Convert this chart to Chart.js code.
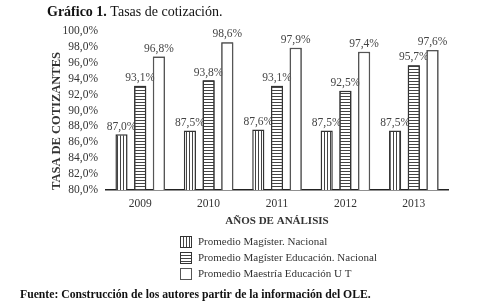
<!DOCTYPE html>
<html>
<head>
<meta charset="utf-8">
<script src="https://cdn.jsdelivr.net/npm/chart.js@4"></script>
<style>
  html, body { margin: 0; padding: 0; background: #fff; }
  #wrap { width: 502px; height: 304px; }
</style>
</head>
<body>
<div id="wrap"><canvas id="tasas" width="502" height="304"></canvas></div>
<script>
const years = ['2009', '2010', '2011', '2012', '2013'];
const magisterNacional = [87.0, 87.5, 87.6, 87.5, 87.5];
const magisterEducacion = [93.1, 93.8, 93.1, 92.5, 95.7];
const maestriaUT = [96.8, 98.6, 97.9, 97.4, 97.6];
const seriesNames = [
  'Promedio Magíster. Nacional',
  'Promedio Magíster Educación. Nacional',
  'Promedio Maestría Educación U T',
];
const yTicks = [80, 82, 84, 86, 88, 90, 92, 94, 96, 98, 100];

const serif = '"Liberation Serif", "DejaVu Serif", serif';

function stripes(vertical) {
  const c = document.createElement('canvas');
  c.width = 3;
  c.height = 3;
  const g = c.getContext('2d');
  g.fillStyle = '#fff';
  g.fillRect(0, 0, 3, 3);
  g.fillStyle = '#444';
  if (vertical) g.fillRect(0, 0, 1, 3);
  else g.fillRect(0, 0, 3, 1);
  return g.createPattern(c, 'repeat');
}

const ctx = document.getElementById('tasas').getContext('2d');
const fills = [stripes(true), stripes(false), '#fff'];
const borders = ['#333', '#333', '#555'];
const fmt = (v) => v.toFixed(1).replace('.', ',') + '%';

const extras = {
  id: 'extras',
  // etiquetas de valor: las barras de la serie siguiente las tapan, como en el original
  afterDatasetsDraw(chart) {
    const c = chart.ctx;
    const a = chart.chartArea;
    chart.data.datasets.forEach((ds, i) => {
      const meta = chart.getDatasetMeta(i);
      if (i > 0) {
        c.save();
        c.beginPath();
        c.rect(a.left, a.top - 20, a.right - a.left, a.bottom - a.top + 20);
        c.clip();
        meta.data.forEach((bar) => bar.draw(c));
        c.restore();
      }
      c.save();
      c.fillStyle = '#444';
      c.font = '11.5px ' + serif;
      c.textAlign = 'center';
      c.textBaseline = 'bottom';
      meta.data.forEach((bar, j) => {
        c.fillText(fmt(ds.data[j]), bar.x, bar.y - 2);
      });
      c.restore();
    });
  },
  afterDraw(chart) {
    const c = chart.ctx;
    c.save();
    c.textBaseline = 'alphabetic';
    c.fillStyle = '#111';
    c.font = 'bold 14px ' + serif;
    c.fillText('Gráfico 1.', 47, 16);
    const w = c.measureText('Gráfico 1. ').width;
    c.font = '14px ' + serif;
    c.fillText('Tasas de cotización.', 47 + w, 16);

    // titulo del eje y
    c.save();
    c.translate(57, 121);
    c.rotate(-Math.PI / 2);
    c.textAlign = 'center';
    c.textBaseline = 'middle';
    c.fillStyle = '#333';
    c.font = 'bold 12.5px ' + serif;
    c.fillText('TASA DE COTIZANTES', 0, 0);
    c.restore();

    c.font = '11px ' + serif;
    c.textBaseline = 'middle';
    seriesNames.forEach((name, i) => {
      const y = 242 + i * 16;
      c.fillStyle = fills[i];
      c.fillRect(180, y - 6, 12, 12);
      c.strokeStyle = borders[i];
      c.lineWidth = 1;
      c.strokeRect(180.5, y - 5.5, 11, 11);
      c.fillStyle = '#333';
      c.fillText(name, 198, y);
    });

    c.fillStyle = '#111';
    c.textBaseline = 'alphabetic';
    c.font = 'bold 11.7px ' + serif;
    c.fillText('Fuente: Construcción de los autores partir de la información del OLE.', 20, 298);
    c.restore();
  },
};

new Chart(ctx, {
  type: 'bar',
  data: {
    labels: years,
    datasets: [magisterNacional, magisterEducacion, maestriaUT].map((d, i) => ({
      label: seriesNames[i],
      data: d,
      backgroundColor: fills[i],
      borderColor: borders[i],
      borderWidth: 1.5,
      categoryPercentage: 0.82,
      barPercentage: 0.65,
    })),
  },
  options: {
    responsive: false,
    animation: false,
    layout: {
      padding: { top: 31, left: 50, right: 54, bottom: 76 },
    },
    scales: {
      x: {
        afterFit(scale) { scale.height = 38; },
        grid: { display: false, drawTicks: false },
        border: { display: true, color: '#222', width: 1.5 },
        ticks: { color: '#333', font: { family: serif, size: 11.5 }, padding: 7 },
        title: {
          display: true,
          text: 'AÑOS DE ANÁLISIS',
          color: '#333',
          font: { family: serif, size: 11, weight: 'bold' },
          padding: { top: 0, bottom: 0 },
        },
      },
      y: {
        min: 80,
        max: 100,
        afterFit(scale) { scale.width = 56; },
        afterBuildTicks(scale) {
          scale.ticks = yTicks.map((v) => ({ value: v }));
        },
        grid: { display: false, drawTicks: false },
        border: { display: false },
        ticks: {
          color: '#333',
          autoSkip: false,
          font: { family: serif, size: 11.5 },
          padding: 8,
          callback: (v) => fmt(v),
        },
      },
    },
    plugins: {
      legend: { display: false },
      tooltip: { enabled: false },
    },
  },
  plugins: [extras],
});
</script>
</body>
</html>
